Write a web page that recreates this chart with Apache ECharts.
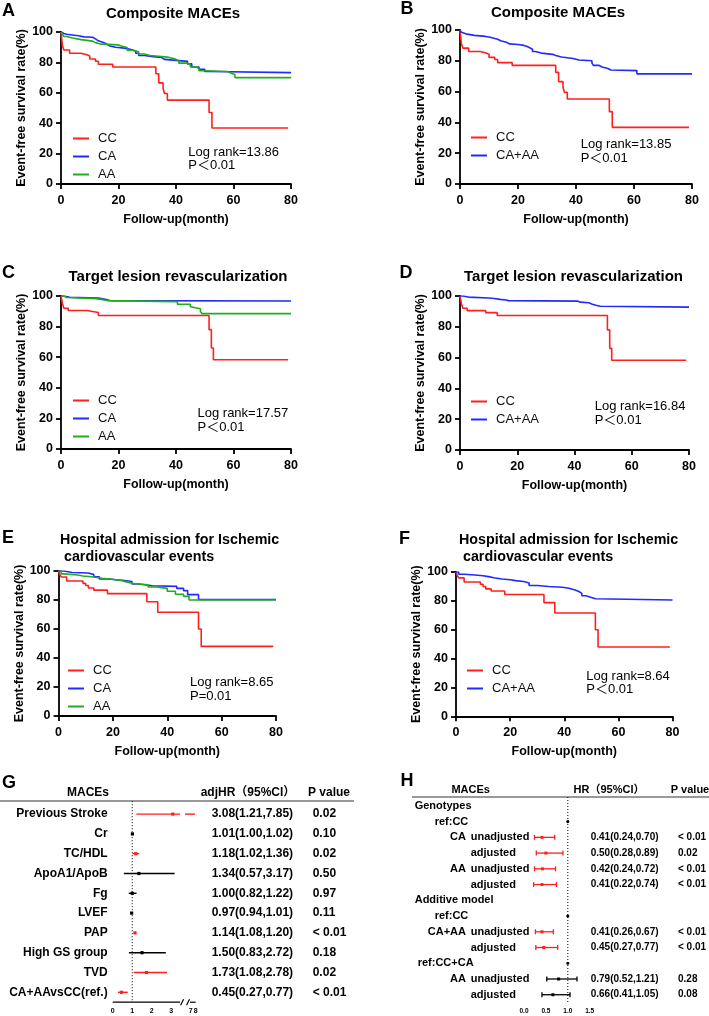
<!DOCTYPE html>
<html>
<head>
<meta charset="utf-8">
<script src="https://cdn.jsdelivr.net/npm/echarts@6/dist/echarts.min.js"></script>
<style>
  html, body { margin: 0; padding: 0; background: #fff; }
  #chart { width: 709px; height: 1016px; }
</style>
</head>
<body>
<div id="chart"></div>
<script>
const FONT = '"Liberation Sans", Arial, "Noto Sans CJK SC", sans-serif';
const RED = '#ff1f1f', BLUE = '#1f2bff', GREEN = '#20ad20';

// Kaplan-Meier curves, [month, event-free survival %]
const maceCC = [[0,100],[0.5,91],[1,88.2],[3,86],[7,85],[9,84.2],[10,82.2],[12,80.8],[13,78.8],[18,77],[33,72.5],[34,66.5],[35.5,63],[36,59.5],[37,55.2],[51.5,47],[52.5,36.8],[79,36.8]];
const maceCA = [[0,100],[0.5,99],[1,98.5],[2,98],[4,97.5],[6,96.8],[8,96.5],[11,95.5],[12,94.2],[13,93],[15,92],[16,90.8],[17,90],[19,89.4],[22,88.6],[24,87.5],[26,86],[27,84.5],[29,83.8],[32,83.2],[35,82],[36,80.7],[44,79],[45.5,77],[48,75.5],[50,74],[52,73.3],[80,73.3]];
const maceAA = [[0,100],[0.5,98.5],[1,97],[2,96],[4,95],[7,94.5],[9,94],[11,93],[12,92],[14,91.5],[20,90.8],[21,89.8],[23,88],[25,87],[27,85.5],[29,84.5],[31,84],[34,83.5],[37,83],[38,82],[40,81],[41,79.5],[44,78.8],[45,77],[47,76],[48,74.5],[50,74],[58,73],[59,72],[60.5,70],[80,70]];
const maceCAAA = [[0,100],[0.5,98.5],[1,97.5],[2,96.5],[5,96],[8,95.5],[10,95],[11,94],[13,93],[14,92],[16,91],[17,90.6],[20,90],[22,89.4],[23,88.5],[24,87.5],[25,86],[26,85],[28,84.2],[32,83.5],[33,83],[34,82.5],[35,82],[37,81.5],[39,81],[40,80.5],[41,80],[45.5,78.5],[46,77],[48,76],[49,75],[51,74],[52,73.6],[61,71.5],[80,71.5]];

const tlrCC = [[0,100],[0.5,95],[1,92],[2.5,90.5],[9,89.2],[13,87.3],[51.5,78],[52.3,66],[53,58.3],[79,58.3]];
const tlrCA = [[0,100],[1,99.2],[3,98.6],[13,98.3],[14,98],[15,97.5],[16,97],[17,96.7],[80,96.7]];
const tlrAA = [[0,100],[1,99],[2,98.3],[12,97.8],[14,97],[16,96.3],[40.5,94.6],[45,93],[45.5,91.7],[48.5,90],[49,88.5],[80,88.5]];
const tlrCAAA = [[0,100],[1,99.3],[3,98.7],[10,98.4],[12,97.8],[14,97.4],[16,97],[17,96.7],[41,96],[42,95.6],[45,94.8],[46,94],[47.5,93.3],[49,92.8],[80,92.8]];

const hospCC = [[0,100],[0.5,97.5],[1,95.9],[3,93.1],[9,91.5],[10,90],[11,88.3],[13,86.8],[18,84.4],[32.5,78.8],[36.5,71.6],[51.5,60],[52.5,48],[79,48]];
const hospCA = [[0,100],[2,99],[5,98.6],[11,97.5],[13,96],[15,94.5],[18,93.6],[23.5,92.8],[27,91],[29.5,89.8],[34.5,89.4],[43.5,88],[46,86.5],[47.5,83.7],[51.5,80.3],[80,80.3]];
const hospAA = [[0,100],[1,98],[2,97.2],[7,96.6],[9,96],[12,95],[16,94.5],[19,93.5],[23,92.5],[25,91.2],[28,90.5],[33,89],[36,88],[40,86],[43,84],[46,82.5],[48,80],[80,80]];
const hospCAAA = [[0,100],[1,98.4],[3,97.9],[7,97.4],[10,96.8],[12,96],[14,95.2],[17,94.6],[20,94],[22,93.4],[25,92.4],[27,90.6],[30,90],[34.3,89.4],[39.3,88.7],[41.7,87.5],[44,86.5],[45.4,85.2],[46.5,83.5],[48,82.4],[50,81.5],[51.6,80.6],[80,80.6]];

// panel G: multivariable Cox model
const gNames = ['Previous Stroke','Cr','TC/HDL','ApoA1/ApoB','Fg','LVEF','PAP','High GS group','TVD','CA+AAvsCC(ref.)'];
const gHR   = [3.08,1.01,1.18,1.34,1.00,0.97,1.14,1.50,1.73,0.45];
const gLow  = [1.21,1.00,1.02,0.57,0.82,0.94,1.08,0.83,1.08,0.27];
const gHigh = [7.85,1.02,1.36,3.17,1.22,1.01,1.20,2.72,2.78,0.77];
const gP    = ['0.02','0.10','0.02','0.50','0.97','0.11','< 0.01','0.18','0.02','< 0.01'];
const gTicks = [0,1,2,3,7,8];

// panel H: genotype models
const hLabels = ['Genotypes','ref:CC','unadjusted','adjusted','unadjusted','adjusted','Additive model','ref:CC','unadjusted','adjusted','ref:CC+CA','unadjusted','adjusted'];
const hPrefix = ['','','CA','','AA','','','','CA+AA','','','AA',''];
const hHR   = [null,1,0.41,0.50,0.42,0.41,null,1,0.41,0.45,1,0.79,0.66];
const hLow  = [null,null,0.24,0.28,0.24,0.22,null,null,0.26,0.27,null,0.52,0.41];
const hHigh = [null,null,0.70,0.89,0.72,0.74,null,null,0.67,0.77,null,1.21,1.05];
const hP    = ['','','< 0.01','0.02','< 0.01','< 0.01','','','< 0.01','< 0.01','','0.28','0.08'];

const lineColor = { CC: RED, CA: BLUE, AA: GREEN, 'CA+AA': BLUE };
const indentOf = { 'Genotypes': 0, 'Additive model': 0, 'ref:CC': 20, 'ref:CC+CA': 3, 'unadjusted': 56, 'adjusted': 56 };

const kmPanels = [
  { grid: { left: 61, top: 32, width: 230, height: 152 }, curves: [['CC', maceCC], ['CA', maceCA], ['AA', maceAA]], legend: { left: 73, top: 132 } },
  { grid: { left: 460, top: 30, width: 232, height: 154 }, curves: [['CC', maceCC], ['CA+AA', maceCAAA]], legend: { left: 471, top: 131 } },
  { grid: { left: 61, top: 296, width: 230, height: 153 }, curves: [['CC', tlrCC], ['CA', tlrCA], ['AA', tlrAA]], legend: { left: 73, top: 394 } },
  { grid: { left: 460, top: 296, width: 229, height: 154 }, curves: [['CC', tlrCC], ['CA+AA', tlrCAAA]], legend: { left: 471, top: 395 } },
  { grid: { left: 58.5, top: 571, width: 217.5, height: 145 }, curves: [['CC', hospCC], ['CA', hospCA], ['AA', hospAA]], legend: { left: 68, top: 664 } },
  { grid: { left: 456, top: 572, width: 216.5, height: 144.3 }, curves: [['CC', hospCC], ['CA+AA', hospCAAA]], legend: { left: 467, top: 664 } }
];

const toBroken = v => (v <= 3.5 ? v : 4 + (v - 7) * 0.25);
const fromBroken = t => (t <= 3.5 ? t : 7 + (t - 4) * 4);
const isSig = p => p.trim().startsWith('<') || parseFloat(p) < 0.05;
const fmt = v => v.toFixed(2);

const axisTxt = (size, weight) => ({ fontFamily: FONT, fontSize: size, fontWeight: weight, color: '#000' });

const grid = [], xAxis = [], yAxis = [], series = [], legend = [];

kmPanels.forEach((p, i) => {
  grid.push(Object.assign({ outerBoundsMode: 'none' }, p.grid));
  const common = {
    gridIndex: i, type: 'value', nameLocation: 'middle',
    nameTextStyle: axisTxt(12.5, 'bold'),
    axisLine: { lineStyle: { color: '#000', width: 1.8 } },
    axisTick: { length: 5, lineStyle: { color: '#000', width: 1.8 } },
    splitLine: { show: false }
  };
  xAxis.push(Object.assign({}, common, {
    min: 0, max: 80, interval: 20, name: 'Follow-up(month)', nameGap: 29,
    axisLabel: Object.assign(axisTxt(12.5, 'bold'), { margin: 10 })
  }));
  yAxis.push(Object.assign({}, common, {
    min: 0, max: 100, interval: 20, name: 'Event-free survival rate(%)', nameGap: 32,
    axisLabel: Object.assign(axisTxt(12.5, 'bold'), { margin: 8 })
  }));
  p.curves.forEach(([name, data]) => {
    series.push({
      type: 'line', name, data, xAxisIndex: i, yAxisIndex: i, step: 'end',
      symbol: 'none', lineStyle: { color: lineColor[name], width: 1.6 },
      itemStyle: { color: lineColor[name] }
    });
  });
  legend.push({
    data: p.curves.map(c => c[0]), left: p.legend.left, top: p.legend.top, padding: 0,
    orient: 'vertical', icon: 'rect', itemWidth: 16, itemHeight: 2, itemGap: 5,
    selectedMode: false, textStyle: { fontFamily: FONT, fontSize: 13, color: '#111', padding: [0, 0, 0, 4] }
  });
});

// ---- panel G ----
const gi = grid.length;
grid.push({ left: 112.7, top: 804.2, width: 83, height: 198, outerBoundsMode: 'none' });
xAxis.push({
  gridIndex: gi, type: 'value', min: 0, max: toBroken(8),
  axisLine: { show: false }, splitLine: { show: false },
  axisTick: { customValues: gTicks.map(toBroken), length: 4, lineStyle: { color: '#000', width: 1.2 } },
  axisLabel: Object.assign(axisTxt(7, 'bold'), {
    customValues: gTicks.map(toBroken), margin: 5,
    formatter: v => String(Math.round(fromBroken(v)))
  })
});
const gy = yAxis.length;
const catAxis = (pos, n, margin, fmtFn, size, extra) => ({
  gridIndex: gi, type: 'category', inverse: true, position: pos,
  data: Array.from({ length: n }, (_, i) => String(i)),
  axisLine: { show: false }, axisTick: { show: false }, splitLine: { show: false },
  axisLabel: Object.assign(axisTxt(size, 'bold'), { interval: 0, margin, formatter: fmtFn }, extra || {})
});
yAxis.push(catAxis('left', gNames.length, 5, (v, i) => gNames[i], 12));
yAxis.push(catAxis('right', gNames.length, 16, (v, i) => `${fmt(gHR[i])}(${fmt(gLow[i])},${fmt(gHigh[i])})`, 12));
yAxis.push(catAxis('right', gNames.length, 117, (v, i) => gP[i], 12));

series.push({
  type: 'custom', xAxisIndex: gi, yAxisIndex: gy,
  data: [[0, 0]],
  renderItem(params, api) {
    const cs = params.coordSys;
    const yb = cs.y + cs.height;
    const X = v => api.coord([v, 0])[0];
    const st = { stroke: '#000', lineWidth: 1.2 };
    const a = X(3.45), b = X(3.96);
    return { type: 'group', children: [
      { type: 'line', shape: { x1: X(1), y1: cs.y - 3, x2: X(1), y2: yb }, style: { stroke: '#000', lineWidth: 1, lineDash: [1, 2] } },
      { type: 'line', shape: { x1: X(0), y1: yb, x2: a, y2: yb }, style: st },
      { type: 'line', shape: { x1: a + 0.5, y1: yb + 3, x2: a + 3.5, y2: yb - 3 }, style: st },
      { type: 'line', shape: { x1: b - 3.5, y1: yb + 3, x2: b - 0.5, y2: yb - 3 }, style: st },
      { type: 'line', shape: { x1: b, y1: yb, x2: X(toBroken(8)), y2: yb }, style: st }
    ] };
  }
});
series.push({
  type: 'custom', xAxisIndex: gi, yAxisIndex: gy,
  dimensions: ['row', 'est', 'lo', 'hi', 'sig'],
  encode: { x: 'est', y: 'row' },
  data: gNames.map((n, i) => [i, gHR[i], gLow[i], gHigh[i], isSig(gP[i]) ? 1 : 0]),
  renderItem(params, api) {
    const row = api.value(0), est = api.value(1), lo = api.value(2), hi = api.value(3);
    const color = api.value(4) ? RED : '#000';
    const y = api.coord([0, row])[1];
    const X = v => api.coord([v, row])[0];
    const st = { stroke: color, lineWidth: 1.4 };
    const kids = [];
    if (hi > 3.5) {
      kids.push({ type: 'line', shape: { x1: X(toBroken(lo)), y1: y, x2: X(3.45), y2: y }, style: st });
      kids.push({ type: 'line', shape: { x1: X(3.7), y1: y, x2: X(toBroken(hi)), y2: y }, style: st });
    } else {
      kids.push({ type: 'line', shape: { x1: X(toBroken(lo)), y1: y, x2: X(toBroken(hi)), y2: y }, style: st });
    }
    const xe = X(toBroken(est));
    kids.push({ type: 'rect', shape: { x: xe - 1.6, y: y - 1.6, width: 3.2, height: 3.2 }, style: { fill: color } });
    return { type: 'group', children: kids };
  }
});

// ---- panel H ----
const hi_ = grid.length;
grid.push({ left: 524, top: 798, width: 65.7, height: 204.6, outerBoundsMode: 'none' });
xAxis.push({
  gridIndex: hi_, type: 'value', min: 0, max: 1.5, interval: 0.5,
  axisLine: { lineStyle: { color: '#000', width: 1.2 } },
  axisTick: { length: 4, lineStyle: { color: '#000', width: 1.2 } },
  splitLine: { show: false },
  axisLabel: Object.assign(axisTxt(6.5, 'bold'), { margin: 5, formatter: v => v.toFixed(1) })
});
const hy = yAxis.length;
const hCat = (pos, margin, fmtFn, size, extra) => {
  const a = catAxis(pos, hLabels.length, margin, fmtFn, size, extra);
  a.gridIndex = hi_;
  return a;
};
const rich = {};
Object.values(indentOf).forEach(n => {
  rich['i' + n] = Object.assign(axisTxt(11, 'bold'), { padding: [0, 0, 0, n] });
});
yAxis.push(hCat('left', 109.3, (v, i) => `{i${indentOf[hLabels[i]]}|${hLabels[i]}}`, 11, { align: 'left', rich }));
yAxis.push(hCat('left', 58, (v, i) => hPrefix[i], 11));
yAxis.push(hCat('right', 1, (v, i) => (hLow[i] == null ? '' : `${fmt(hHR[i])}(${fmt(hLow[i])},${fmt(hHigh[i])})`), 10));
yAxis.push(hCat('right', 88.3, (v, i) => hP[i], 10));

series.push({
  type: 'custom', xAxisIndex: hi_, yAxisIndex: hy,
  data: [[0, 0]],
  renderItem(params, api) {
    const cs = params.coordSys;
    const x = api.coord([1, 0])[0];
    return { type: 'line', shape: { x1: x, y1: cs.y - 1, x2: x, y2: cs.y + cs.height }, style: { stroke: '#000', lineWidth: 1, lineDash: [1, 2] } };
  }
});
const hRows = [];
hLabels.forEach((n, i) => {
  if (hHR[i] == null) return;
  const lo = hLow[i] == null ? hHR[i] : hLow[i];
  const hi = hHigh[i] == null ? hHR[i] : hHigh[i];
  hRows.push([i, hHR[i], lo, hi, hP[i] && isSig(hP[i]) ? 1 : 0]);
});
series.push({
  type: 'custom', xAxisIndex: hi_, yAxisIndex: hy,
  dimensions: ['row', 'est', 'lo', 'hi', 'sig'],
  encode: { x: 'est', y: 'row' },
  data: hRows,
  renderItem(params, api) {
    const row = api.value(0), est = api.value(1), lo = api.value(2), hi = api.value(3);
    const color = api.value(4) ? RED : '#000';
    const [xe, y] = api.coord([est, row]);
    if (lo === hi) return { type: 'circle', shape: { cx: xe, cy: y, r: 1.6 }, style: { fill: '#000' } };
    const xl = api.coord([lo, row])[0], xh = api.coord([hi, row])[0];
    const st = { stroke: color, lineWidth: 1.3 };
    return { type: 'group', children: [
      { type: 'line', shape: { x1: xl, y1: y, x2: xh, y2: y }, style: st },
      { type: 'line', shape: { x1: xl, y1: y - 2.5, x2: xl, y2: y + 2.5 }, style: st },
      { type: 'line', shape: { x1: xh, y1: y - 2.5, x2: xh, y2: y + 2.5 }, style: st },
      { type: 'rect', shape: { x: xe - 1.5, y: y - 1.5, width: 3, height: 3 }, style: { fill: color } }
    ] };
  }
});

// ---- free text: panel letters, titles, statistics, table headers ----
const text = (x, y, t, size, weight, align) => ({
  type: 'text', x, y, silent: true,
  style: { text: t, font: `${weight} ${size}px ${FONT}`, fill: '#000', align: align || 'left', verticalAlign: 'middle' }
});
const graphic = [
  text(2, 11, 'A', 18, 'bold'), text(400.5, 9.5, 'B', 18, 'bold'),
  text(2, 273.5, 'C', 18, 'bold'), text(399.5, 273.5, 'D', 18, 'bold'),
  text(2, 538, 'E', 18, 'bold'), text(399, 539, 'F', 18, 'bold'),
  text(2, 783.5, 'G', 18, 'bold'), text(400.5, 781.5, 'H', 18, 'bold'),

  text(173, 13.5, 'Composite MACEs', 15, 'bold', 'center'),
  text(558, 13, 'Composite MACEs', 15, 'bold', 'center'),
  text(178, 277, 'Target lesion revascularization', 15, 'bold', 'center'),
  text(573.5, 277, 'Target lesion revascularization', 15, 'bold', 'center'),
  text(60, 540, 'Hospital admission for Ischemic', 14.3, 'bold'),
  text(60, 557, ' cardiovascular events', 14.3, 'bold'),
  text(459, 540, 'Hospital admission for Ischemic', 14.3, 'bold'),
  text(459, 557, ' cardiovascular events', 14.3, 'bold'),

  text(188.3, 152.3, 'Log rank=13.86', 13, 'normal'), text(188.3, 165.7, 'P＜0.01', 13, 'normal'),
  text(580.7, 144, 'Log rank=13.85', 13, 'normal'), text(580.7, 158.3, 'P＜0.01', 13, 'normal'),
  text(197.5, 413.3, 'Log rank=17.57', 13, 'normal'), text(197.5, 427.3, 'P＜0.01', 13, 'normal'),
  text(594.7, 406.7, 'Log rank=16.84', 13, 'normal'), text(594.7, 420.5, 'P＜0.01', 13, 'normal'),
  text(190, 682.3, 'Log rank=8.65', 13, 'normal'), text(190, 696, 'P=0.01', 13, 'normal'),
  text(586.3, 676, 'Log rank=8.64', 13, 'normal'), text(586.3, 689.3, 'P＜0.01', 13, 'normal'),

  text(88, 793, 'MACEs', 12, 'bold', 'center'),
  text(248, 793, 'adjHR（95%CI）', 12, 'bold', 'center'),
  text(308, 793, 'P value', 12, 'bold'),
  { type: 'line', silent: true, shape: { x1: 0, y1: 801, x2: 354, y2: 801 }, style: { stroke: '#333', lineWidth: 1 } },
  text(470.7, 790, 'MACEs', 11, 'bold', 'center'),
  text(609, 790, 'HR（95%CI）', 11, 'bold', 'center'),
  text(670.7, 790, 'P value', 11, 'bold'),
  { type: 'line', silent: true, shape: { x1: 412, y1: 797, x2: 709, y2: 797 }, style: { stroke: '#333', lineWidth: 1 } }
];

const chart = echarts.init(document.getElementById('chart'));
chart.setOption({
  animation: false,
  backgroundColor: '#fff',
  grid, xAxis, yAxis, series, legend, graphic
});
</script>
</body>
</html>
